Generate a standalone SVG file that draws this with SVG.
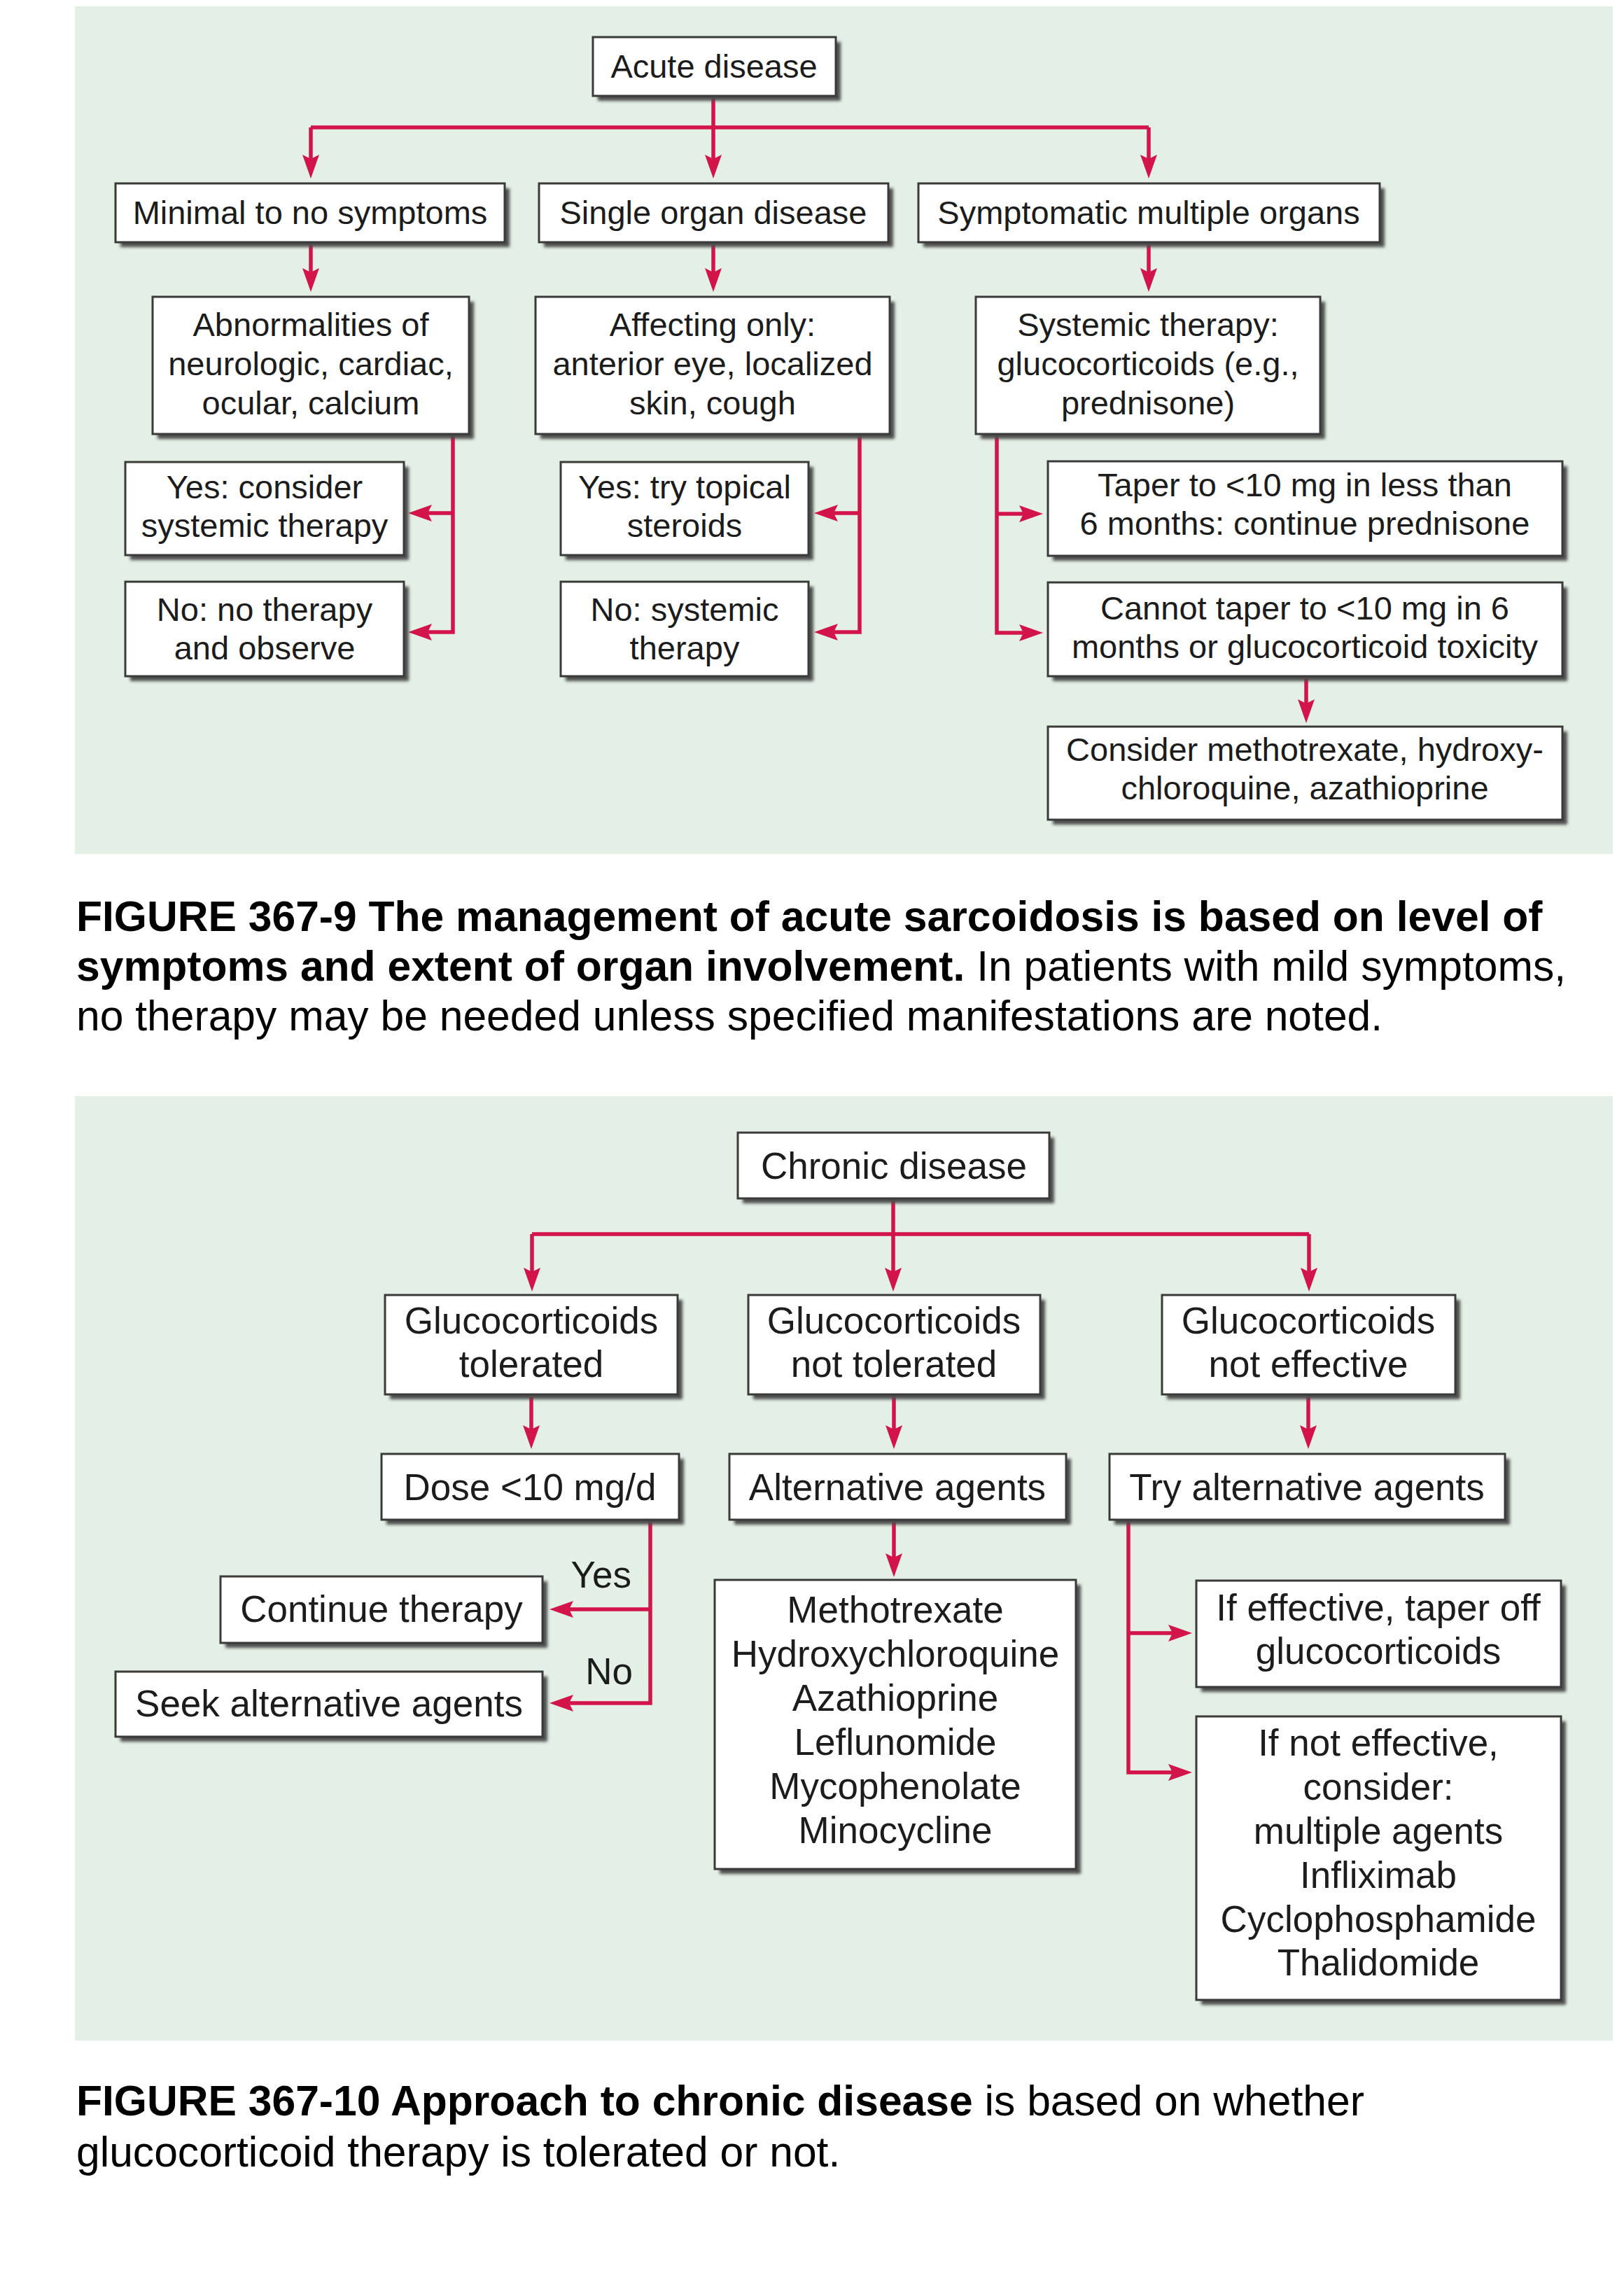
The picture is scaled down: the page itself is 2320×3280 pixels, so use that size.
<svg xmlns="http://www.w3.org/2000/svg" width="2320" height="3280" viewBox="0 0 2320 3280">
<style>
.panel{fill:#e4f0e6}
.box{fill:#ffffff;stroke:#3a3a3a;stroke-width:3}
.sh{fill:#4d4d4d;filter:url(#blur)}
.t1{font-family:"Liberation Sans",Arial,sans-serif;font-size:47px;fill:#1c1c1c;text-anchor:middle}
.t2{font-family:"Liberation Sans",Arial,sans-serif;font-size:53px;fill:#1c1c1c;text-anchor:middle}
.lab{font-family:"Liberation Sans",Arial,sans-serif;font-size:53px;fill:#1c1c1c}
.cap{font-family:"Liberation Sans",Arial,sans-serif;font-size:60.6px;fill:#000}
.b{font-weight:bold}
.con path{fill:none;stroke:#d3144b;stroke-width:5.5}
.arr{marker-end:url(#ah)}
</style>
<defs>
<filter id="blur" x="-5%" y="-5%" width="110%" height="110%"><feGaussianBlur stdDeviation="2"/></filter>
<marker id="ah" markerUnits="userSpaceOnUse" markerWidth="36" markerHeight="26" refX="25" refY="12" orient="auto" viewBox="0 0 36 26">
<path d="M0,0 L34,12 L0,24 L6,12 z" fill="#d3144b"/>
</marker>
</defs>

<rect class="panel" x="107" y="9" width="2197" height="1211"/>
<rect class="panel" x="107" y="1566" width="2197" height="1349"/>

<g id="connectors" class="con">
<path d="M1019,137 V246" class="arr"/>
<path d="M444,182 H1641"/>
<path d="M444,182 V246" class="arr"/>
<path d="M1641,182 V246" class="arr"/>
<path d="M444,346 V408" class="arr"/>
<path d="M1019,346 V408" class="arr"/>
<path d="M1641,346 V408" class="arr"/>
<path d="M647,620 V903 H592" class="arr"/>
<path d="M647,733 H592" class="arr"/>
<path d="M1228,620 V903 H1172" class="arr"/>
<path d="M1228,733 H1172" class="arr"/>
<path d="M1424,620 V904 H1481" class="arr"/>
<path d="M1424,734 H1481" class="arr"/>
<path d="M1866,966 V1024" class="arr"/>

<path d="M1276,1712 V1836" class="arr"/>
<path d="M760,1763 H1870"/>
<path d="M760,1763 V1836" class="arr"/>
<path d="M1870,1763 V1836" class="arr"/>
<path d="M759,1992 V2061" class="arr"/>
<path d="M1277,1992 V2061" class="arr"/>
<path d="M1869,1992 V2061" class="arr"/>
<path d="M929,2172 V2433 H794" class="arr"/>
<path d="M929,2299 H794" class="arr"/>
<path d="M1277,2172 V2244" class="arr"/>
<path d="M1612,2172 V2532 H1694" class="arr"/>
<path d="M1612,2333 H1694" class="arr"/>
</g>

<g id="n-acute"><rect class="sh" x="854" y="60" width="347" height="84"/><rect class="box" x="847" y="53" width="347" height="84"/><text class="t1" x="1020" y="111">Acute disease</text></g>

<g id="n-minimal"><rect class="sh" x="172" y="269" width="556" height="84"/><rect class="box" x="165" y="262" width="556" height="84"/><text class="t1" x="443" y="320">Minimal to no symptoms</text></g>
<g id="n-single"><rect class="sh" x="777" y="269" width="499" height="84"/><rect class="box" x="770" y="262" width="499" height="84"/><text class="t1" x="1019" y="320">Single organ disease</text></g>
<g id="n-symptomatic"><rect class="sh" x="1319" y="269" width="659" height="84"/><rect class="box" x="1312" y="262" width="659" height="84"/><text class="t1" x="1641" y="320">Symptomatic multiple organs</text></g>

<g id="n-abnorm"><rect class="sh" x="225" y="431" width="452" height="196"/><rect class="box" x="218" y="424" width="452" height="196"/><text class="t1" x="444" y="480"><tspan x="444">Abnormalities of</tspan><tspan x="444" y="536">neurologic, cardiac,</tspan><tspan x="444" y="592">ocular, calcium</tspan></text></g>
<g id="n-affecting"><rect class="sh" x="772" y="431" width="506" height="196"/><rect class="box" x="765" y="424" width="506" height="196"/><text class="t1" x="1018" y="480"><tspan x="1018">Affecting only:</tspan><tspan x="1018" y="536">anterior eye, localized</tspan><tspan x="1018" y="592">skin, cough</tspan></text></g>
<g id="n-systemic"><rect class="sh" x="1401" y="431" width="492" height="196"/><rect class="box" x="1394" y="424" width="492" height="196"/><text class="t1" x="1640" y="480"><tspan x="1640">Systemic therapy:</tspan><tspan x="1640" y="536">glucocorticoids (e.g.,</tspan><tspan x="1640" y="592">prednisone)</tspan></text></g>

<g id="n-yes1"><rect class="sh" x="186" y="667" width="398" height="133"/><rect class="box" x="179" y="660" width="398" height="133"/><text class="t1" x="378" y="712"><tspan x="378">Yes: consider</tspan><tspan x="378" y="767">systemic therapy</tspan></text></g>
<g id="n-no1"><rect class="sh" x="186" y="838" width="398" height="135"/><rect class="box" x="179" y="831" width="398" height="135"/><text class="t1" x="378" y="887"><tspan x="378">No: no therapy</tspan><tspan x="378" y="942">and observe</tspan></text></g>
<g id="n-yes2"><rect class="sh" x="808" y="667" width="354" height="133"/><rect class="box" x="801" y="660" width="354" height="133"/><text class="t1" x="978" y="712"><tspan x="978">Yes: try topical</tspan><tspan x="978" y="767">steroids</tspan></text></g>
<g id="n-no2"><rect class="sh" x="808" y="838" width="354" height="135"/><rect class="box" x="801" y="831" width="354" height="135"/><text class="t1" x="978" y="887"><tspan x="978">No: systemic</tspan><tspan x="978" y="942">therapy</tspan></text></g>

<g id="n-taper"><rect class="sh" x="1504" y="666" width="735" height="135"/><rect class="box" x="1497" y="659" width="735" height="135"/><text class="t1" x="1864" y="709"><tspan x="1864">Taper to &lt;10 mg in less than</tspan><tspan x="1864" y="764">6 months: continue prednisone</tspan></text></g>
<g id="n-cannot"><rect class="sh" x="1504" y="839" width="735" height="134"/><rect class="box" x="1497" y="832" width="735" height="134"/><text class="t1" x="1864" y="885"><tspan x="1864">Cannot taper to &lt;10 mg in 6</tspan><tspan x="1864" y="940">months or glucocorticoid toxicity</tspan></text></g>
<g id="n-consider"><rect class="sh" x="1504" y="1045" width="735" height="133"/><rect class="box" x="1497" y="1038" width="735" height="133"/><text class="t1" x="1864" y="1087"><tspan x="1864">Consider methotrexate, hydroxy-</tspan><tspan x="1864" y="1142">chloroquine, azathioprine</tspan></text></g>

<g id="caption1">
<text class="cap" x="109" y="1330"><tspan class="b">FIGURE 367-9 The management of acute sarcoidosis is based on level of</tspan><tspan x="109" y="1401" class="b">symptoms and extent of organ involvement.</tspan><tspan> In patients with mild symptoms,</tspan><tspan x="109" y="1472">no therapy may be needed unless specified manifestations are noted.</tspan></text>
</g>

<g id="n-chronic"><rect class="sh" x="1061" y="1625" width="445" height="94"/><rect class="box" x="1054" y="1618" width="445" height="94"/><text class="t2" x="1277" y="1684">Chronic disease</text></g>

<g id="n-tolerated"><rect class="sh" x="557" y="1857" width="418" height="142"/><rect class="box" x="550" y="1850" width="418" height="142"/><text class="t2" x="759" y="1905"><tspan x="759">Glucocorticoids</tspan><tspan x="759" y="1967">tolerated</tspan></text></g>
<g id="n-nottolerated"><rect class="sh" x="1076" y="1857" width="417" height="142"/><rect class="box" x="1069" y="1850" width="417" height="142"/><text class="t2" x="1277" y="1905"><tspan x="1277">Glucocorticoids</tspan><tspan x="1277" y="1967">not tolerated</tspan></text></g>
<g id="n-noteffective"><rect class="sh" x="1667" y="1857" width="419" height="142"/><rect class="box" x="1660" y="1850" width="419" height="142"/><text class="t2" x="1869" y="1905"><tspan x="1869">Glucocorticoids</tspan><tspan x="1869" y="1967">not effective</tspan></text></g>

<g id="n-dose"><rect class="sh" x="552" y="2084" width="425" height="94"/><rect class="box" x="545" y="2077" width="425" height="94"/><text class="t2" x="757" y="2143">Dose &lt;10 mg/d</text></g>
<g id="n-alt"><rect class="sh" x="1049" y="2084" width="481" height="94"/><rect class="box" x="1042" y="2077" width="481" height="94"/><text class="t2" x="1282" y="2143">Alternative agents</text></g>
<g id="n-try"><rect class="sh" x="1592" y="2084" width="565" height="94"/><rect class="box" x="1585" y="2077" width="565" height="94"/><text class="t2" x="1867" y="2143">Try alternative agents</text></g>

<g id="l-yes"><text class="lab" x="902" y="2268" text-anchor="end">Yes</text></g>
<g id="l-no"><text class="lab" x="904" y="2406" text-anchor="end">No</text></g>

<g id="n-continue"><rect class="sh" x="322" y="2259" width="460" height="95"/><rect class="box" x="315" y="2252" width="460" height="95"/><text class="t2" x="545" y="2317">Continue therapy</text></g>
<g id="n-seek"><rect class="sh" x="172" y="2395" width="610" height="93"/><rect class="box" x="165" y="2388" width="610" height="93"/><text class="t2" x="470" y="2452">Seek alternative agents</text></g>

<g id="n-list"><rect class="sh" x="1028" y="2264" width="516" height="413"/><rect class="box" x="1021" y="2257" width="516" height="413"/><text class="t2" x="1279" y="2318"><tspan x="1279">Methotrexate</tspan><tspan x="1279" y="2381">Hydroxychloroquine</tspan><tspan x="1279" y="2444">Azathioprine</tspan><tspan x="1279" y="2507">Leflunomide</tspan><tspan x="1279" y="2570">Mycophenolate</tspan><tspan x="1279" y="2633">Minocycline</tspan></text></g>

<g id="n-ifeff"><rect class="sh" x="1716" y="2265" width="521" height="152"/><rect class="box" x="1709" y="2258" width="521" height="152"/><text class="t2" x="1969" y="2315"><tspan x="1969">If effective, taper off</tspan><tspan x="1969" y="2377">glucocorticoids</tspan></text></g>
<g id="n-ifnot"><rect class="sh" x="1716" y="2459" width="521" height="405"/><rect class="box" x="1709" y="2452" width="521" height="405"/><text class="t2" x="1969" y="2508"><tspan x="1969">If not effective,</tspan><tspan x="1969" y="2571">consider:</tspan><tspan x="1969" y="2634">multiple agents</tspan><tspan x="1969" y="2697">Infliximab</tspan><tspan x="1969" y="2760">Cyclophosphamide</tspan><tspan x="1969" y="2822">Thalidomide</tspan></text></g>

<g id="caption2">
<text class="cap" x="109" y="3022"><tspan class="b">FIGURE 367-10 Approach to chronic disease</tspan><tspan> is based on whether</tspan><tspan x="109" y="3095">glucocorticoid therapy is tolerated or not.</tspan></text>
</g>
</svg>
